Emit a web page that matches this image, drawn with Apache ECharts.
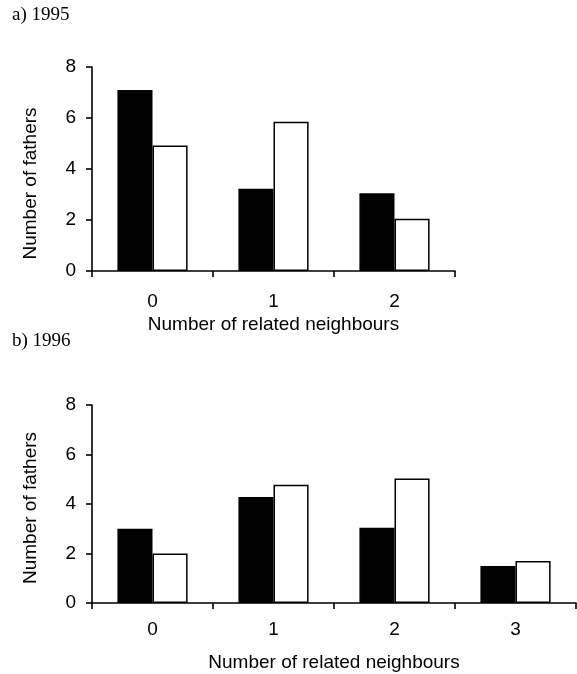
<!DOCTYPE html>
<html>
<head>
<meta charset="utf-8">
<script src="https://cdn.jsdelivr.net/npm/echarts@6/dist/echarts.min.js"></script>
<style>
html,body{margin:0;padding:0;background:#fff;}
#chart{width:577px;height:674px;}
</style>
</head>
<body>
<div id="chart"></div>
<script>
// Data
var categories1995 = ['0', '1', '2'];
var black1995 = [7.1, 3.23, 3.05];
var white1995 = [4.92, 5.85, 2.05];

var categories1996 = ['0', '1', '2', '3'];
var black1996 = [3.0, 4.28, 3.04, 1.5];
var white1996 = [2.0, 4.78, 5.03, 1.7];

var yTicks = [0, 2, 4, 6, 8];

var SANS = 'Liberation Sans, Arial, Helvetica, sans-serif';
var SERIF = 'Liberation Serif, Times New Roman, serif';

function xAxisCfg(idx, cats, labelMargin, nameGap) {
  return {
    type: 'category', gridIndex: idx, data: cats,
    boundaryGap: true,
    axisLine: { show: true, lineStyle: { color: '#000', width: 1.6 } },
    axisTick: { show: true, inside: false, length: 6, alignWithLabel: false, lineStyle: { color: '#000', width: 1.6 } },
    axisLabel: { color: '#000', fontSize: 19, fontFamily: SANS, margin: labelMargin },
    splitLine: { show: false },
    name: 'Number of related neighbours',
    nameLocation: 'middle', nameGap: nameGap,
    nameTextStyle: { color: '#000', fontSize: 19, fontFamily: SANS }
  };
}
function yAxisCfg(idx, padding) {
  return {
    type: 'value', gridIndex: idx, min: 0, max: 8, interval: 2,
    axisLine: { show: true, lineStyle: { color: '#000', width: 1.6 } },
    axisTick: { show: true, inside: false, length: 6, lineStyle: { color: '#000', width: 1.6 } },
    axisLabel: { color: '#000', fontSize: 19, fontFamily: SANS, margin: 16,
      formatter: function (v) { return yTicks.indexOf(v) >= 0 ? String(v) : ''; } },
    splitLine: { show: false },
    name: 'Number of fathers',
    nameLocation: 'middle', nameGap: 52, nameRotate: 90,
    nameTextStyle: { color: '#000', fontSize: 19, fontFamily: SANS, padding: padding }
  };
}
function barSeries(idx, data, fill) {
  return {
    type: 'bar', xAxisIndex: idx, yAxisIndex: idx, data: data,
    barGap: '0%', barCategoryGap: '42%',
    itemStyle: { color: fill, borderColor: '#000', borderWidth: 1.5 },
    emphasis: { disabled: true },
    animation: false
  };
}

var chart = echarts.init(document.getElementById('chart'), null, { renderer: 'canvas' });
chart.setOption({
  backgroundColor: '#fff',
  animation: false,
  title: [
    { text: 'a) 1995', left: 12, top: 6, padding: 0,
      textStyle: { color: '#000', fontSize: 19, fontWeight: 'normal', fontFamily: SERIF } },
    { text: 'b) 1996', left: 12, top: 332, padding: 0,
      textStyle: { color: '#000', fontSize: 19, fontWeight: 'normal', fontFamily: SERIF } }
  ],
  grid: [
    { left: 92, top: 67, width: 363, height: 204 },
    { left: 92, top: 405, width: 484, height: 198 }
  ],
  xAxis: [
    xAxisCfg(0, categories1995, 21, 44),
    xAxisCfg(1, categories1996, 17, 50)
  ],
  yAxis: [
    yAxisCfg(0, [0, 29, 0, 0]),
    yAxisCfg(1, [0, 8, 0, 0])
  ],
  series: [
    barSeries(0, black1995, '#000'),
    barSeries(0, white1995, '#fff'),
    barSeries(1, black1996, '#000'),
    barSeries(1, white1996, '#fff')
  ]
});
</script>
</body>
</html>
